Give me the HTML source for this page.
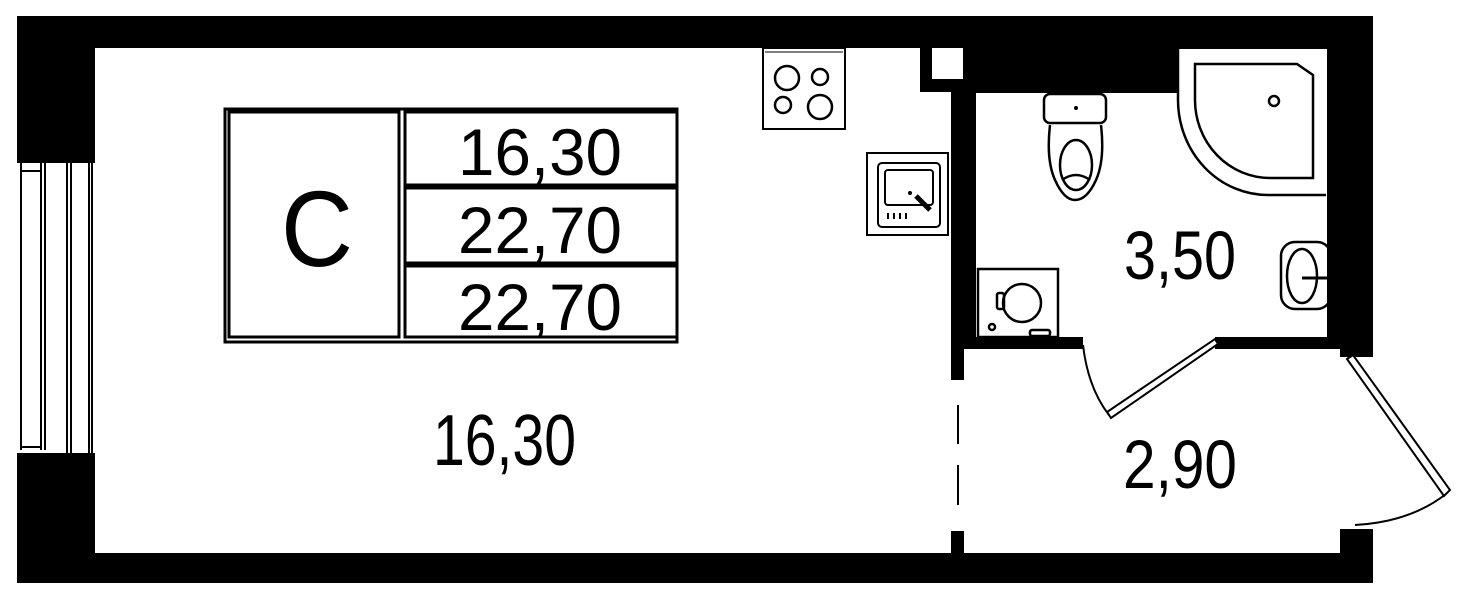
<!DOCTYPE html>
<html><head><meta charset="utf-8"><style>
html,body{margin:0;padding:0;background:#fff;}
svg{display:block;}
text{font-family:"Liberation Sans",Arial,sans-serif;fill:#000;}
</style></head><body>
<svg width="1481" height="600" viewBox="0 0 1481 600" xmlns="http://www.w3.org/2000/svg">
<!-- outer walls black -->
<rect x="17" y="16" width="1356" height="567" fill="#000"/>
<!-- main room -->
<rect x="95" y="48" width="856" height="505" fill="#fff"/>
<!-- kitchen nook up to partition -->
<rect x="920" y="48" width="31" height="44" fill="#000"/>
<rect x="932" y="48" width="31" height="31" fill="#fff"/>
<rect x="951" y="92" width="13" height="0" fill="#000"/>
<!-- bathroom -->
<rect x="976" y="93" width="202" height="244" fill="#fff"/>
<rect x="1178" y="49" width="149" height="288" fill="#fff"/>
<!-- hall -->
<rect x="964" y="349" width="376" height="204" fill="#fff"/>
<!-- bath door opening -->
<rect x="1083" y="335" width="132" height="16" fill="#fff"/>
<!-- entrance opening -->
<rect x="1340" y="357" width="40" height="172" fill="#fff"/>
<rect x="1373" y="340" width="108" height="260" fill="#fff"/>
<rect x="1340" y="529" width="33" height="54" fill="#000"/>
<!-- partition opening with dashes -->
<rect x="951" y="380" width="13" height="151" fill="#fff"/>
<line x1="958" y1="405" x2="958" y2="444" stroke="#000" stroke-width="2"/>
<line x1="958" y1="465" x2="958" y2="505" stroke="#000" stroke-width="2"/>
<!-- window -->
<rect x="17" y="163" width="78" height="290" fill="#fff"/>
<g stroke="#000" stroke-width="2">
<line x1="21" y1="163" x2="21" y2="450"/>
<line x1="41" y1="163" x2="41" y2="450"/>
<line x1="45" y1="163" x2="45" y2="450"/>
<line x1="67" y1="163" x2="67" y2="455"/>
<line x1="71" y1="163" x2="71" y2="455"/>
<line x1="89" y1="163" x2="89" y2="455"/>
<line x1="92" y1="163" x2="92" y2="455"/>
<line x1="21" y1="171" x2="41" y2="171"/>
<line x1="21" y1="447" x2="41" y2="447"/>
</g>
<!-- table -->
<g fill="none" stroke="#000" stroke-width="3">
<rect x="225" y="109" width="452" height="233"/>
<rect x="229" y="112" width="170" height="225"/>
<rect x="405" y="112" width="272" height="73"/>
<rect x="405" y="188" width="272" height="75"/>
<rect x="405" y="266" width="272" height="71"/>
</g>
<text x="281" y="266" font-size="108" textLength="72" lengthAdjust="spacingAndGlyphs">C</text>
<text x="458" y="175" font-size="66" textLength="164" lengthAdjust="spacingAndGlyphs">16,30</text>
<text x="458" y="253" font-size="66" textLength="164" lengthAdjust="spacingAndGlyphs">22,70</text>
<text x="458" y="330" font-size="66" textLength="164" lengthAdjust="spacingAndGlyphs">22,70</text>
<text x="433" y="465" font-size="72" textLength="143" lengthAdjust="spacingAndGlyphs">16,30</text>
<text x="1124" y="279" font-size="69" textLength="112" lengthAdjust="spacingAndGlyphs">3,50</text>
<text x="1123" y="488" font-size="69" textLength="114" lengthAdjust="spacingAndGlyphs">2,90</text>
<!-- stove -->
<g fill="none" stroke="#000" stroke-width="2">
<rect x="763" y="48" width="82" height="81"/>
<line x1="765" y1="52" x2="843" y2="52" stroke-width="1"/>
<circle cx="787" cy="78" r="12" stroke-width="2.5"/>
<circle cx="820" cy="77" r="8" stroke-width="2.5"/>
<circle cx="783" cy="105" r="8" stroke-width="2.5"/>
<circle cx="820" cy="107" r="12" stroke-width="2.5"/>
<!-- sink -->
<rect x="867" y="153" width="81" height="82"/>
<rect x="878" y="163" width="62" height="64" rx="4"/>
<rect x="885" y="170" width="48" height="35" rx="3"/>
<line x1="916" y1="196" x2="930" y2="210" stroke-width="5"/>
<line x1="888" y1="213" x2="888" y2="219"/>
<line x1="894" y1="213" x2="894" y2="219"/>
<line x1="900" y1="213" x2="900" y2="219"/>
<line x1="906" y1="213" x2="906" y2="219"/>
</g>
<circle cx="910" cy="193" r="2" fill="#000"/>
<!-- toilet -->
<g fill="none" stroke="#000" stroke-width="2.5">
<rect x="1044" y="94" width="62" height="29" rx="6"/>
<path d="M1050 125 Q1046 160 1055 180 Q1064 200 1075 200 Q1087 200 1096 180 Q1105 160 1101 125"/>
<ellipse cx="1076" cy="165" rx="16" ry="25"/>
<path d="M1062 180 Q1076 170 1090 180"/>
<!-- shower -->
<path d="M1178 49 L1178 100 A90 95 0 0 0 1268 195 L1326 195"/>
<path d="M1195 64 L1297 64 L1313 75 L1313 178 L1270 178 A75 78 0 0 1 1195 100 Z"/>
<circle cx="1274" cy="101" r="5"/>
<!-- wash basin -->
<rect x="1281" y="242" width="50" height="67" rx="14"/>
<ellipse cx="1302" cy="276" rx="15" ry="27"/>
<!-- washing machine -->
<rect x="978" y="269" width="80" height="68"/>
<circle cx="1022" cy="303" r="19"/>
<rect x="997" y="293" width="7" height="16" rx="2"/>
<circle cx="992" cy="327" r="3"/>
<rect x="1030" y="330" width="20" height="6" rx="2"/>
</g>
<circle cx="1076" cy="108" r="2" fill="#000"/>
<line x1="1302" y1="278" x2="1328" y2="278" stroke="#000" stroke-width="3"/>
<!-- bath door -->
<g fill="none" stroke="#000" stroke-width="2">
<path d="M1215 339 L1218 344 L1111 418 L1107 412 Z" fill="#fff"/>
<path d="M1083 345 Q1088 388 1109 415"/>
<!-- entrance door -->
<path d="M1347 359 L1353 355 L1450 490 L1444 496 Z" fill="#fff"/>
<path d="M1446 494 Q1410 522 1355 525"/>
</g>
</svg>
</body></html>
